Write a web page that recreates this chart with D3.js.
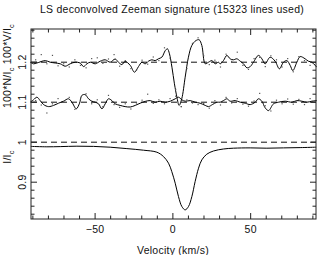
<!DOCTYPE html>
<html>
<head>
<meta charset="utf-8">
<script src="https://cdn.jsdelivr.net/npm/d3@7"></script>
<style>
  body { margin: 0; background: #fff; }
  text { font-family: "Liberation Sans", Arial, Helvetica, sans-serif; fill: #111; letter-spacing: 0.25px; }
</style>
</head>
<body>
<svg id="chart" width="317" height="255"></svg>
<script>
// --- data ---

const titleText = "LS deconvolved Zeeman signature (15323 lines used)";
const xTickValues = [-50, 0, 50];
const yTickValues = [0.9, 1.0, 1.1, 1.2];
const yTickLabels = ["0.9", "1", "1.1", "1.2"];
const zeroLevels = [1.0, 1.1, 1.2];   // dashed reference lines (I continuum, N offset, V offset)
const vOffset = 1.2, nOffset = 1.1;

// Stokes V (100*V/Ic), smoothed curve
const vVel = [-91.7, -89.6, -87.4, -82.0, -78.9, -75.6, -72.4, -69.2, -66.0, -62.8, -59.6, -57.4, -55.3, -53.1, -49.9,
  -46.7, -43.5, -40.3, -37.1, -35.0, -32.8, -30.7, -27.4, -24.7, -22.1, -19.9, -17.8, -15.7, -13.5, -11.4, -9.3, -7.1,
  -4.9, -3.5, -2.2, -0.6, 1.0, 2.6, 4.0, 5.7, 7.9, 10.0, 12.2, 14.8, 16.9, 18.6, 20.8, 22.9, 25.1, 27.2, 29.3, 30.4,
  32.5, 34.7, 36.8, 38.9, 41.1, 43.3, 45.4, 47.6, 49.7, 51.8, 55.0, 57.2, 59.3, 62.5, 65.7, 68.5, 71.1, 73.3, 75.4,
  77.1, 79.7, 81.8, 85.0, 87.1, 89.3, 92.5];
const vVal = [0, -0.004, -0.002, 0.004, 0, -0.002, -0.004, -0.010, -0.004, 0, -0.002, -0.011, -0.004, 0, -0.004,
  0.0025, 0.006, 0, 0.008, 0, -0.006, 0.002, -0.008, -0.025, -0.011, 0, -0.004, 0.0025, 0.006, 0.004, 0.0085, 0.0125,
  0.029, 0.0335, 0.021, -0.0125, -0.054, -0.0875, -0.108, -0.0915, -0.0375, 0.0125, 0.042, 0.054, 0.056, 0.042, -0.004,
  0, 0.004, -0.004, 0, -0.004, 0.004, 0.017, 0.0085, 0.006, 0.0085, 0.0025, -0.004, -0.014, -0.011, 0, 0.017, 0.0085,
  -0.004, 0.0125, 0.0025, -0.0165, 0, 0.004, -0.008, -0.021, 0, 0.014, 0.0085, 0.0025, 0, -0.0125];

// Null profile (100*N/Ic), smoothed curve
const nVel = [-91.7, -89.6, -87.4, -85.3, -83.1, -79.9, -76.7, -73.5, -70.3, -67.1, -64.9, -62.1, -60.0, -58.5, -56.4,
  -54.2, -52.1, -49.9, -47.8, -45.6, -43.5, -41.4, -39.2, -37.1, -33.9, -30.7, -27.4, -24.2, -21.0, -17.8, -14.6, -11.4,
  -8.2, -4.9, -1.7, 1.5, 3.6, 5.8, 7.9, 11.1, 14.3, 17.5, 20.8, 22.9, 25.4, 28.3, 30.4, 32.5, 34.7, 36.8, 40.0, 43.3,
  46.5, 49.7, 52.9, 55.0, 57.2, 59.3, 61.5, 64.7, 67.9, 72.2, 76.5, 79.7, 82.9, 86.1, 89.3, 92.5];
const nVal = [0, 0.006, 0.0125, 0.004, -0.006, -0.011, -0.008, -0.0025, 0.0025, 0.0085, 0, -0.0165, -0.0025, 0.017, 0.019,
  0.0085, 0.0025, 0, -0.004, -0.0165, -0.004, 0.0085, 0.004, -0.004, -0.008, -0.011, -0.012, -0.008, -0.0025, 0.002, 0.004, 0,
  0.0025, 0, 0.0025, 0.0085, 0.0125, 0.006, 0.0025, 0.004, 0, -0.0025, -0.008, -0.011, -0.006, 0, 0, 0.004, 0.0085, 0.0025,
  0.004, 0, -0.0025, -0.006, 0, 0.0085, 0.0025, -0.014, -0.021, -0.004, 0, 0.0025, 0, 0.004, 0.0025, 0, 0.0025, 0.004];

// raw LSD points (dots) for V and N
const dotVel = [-88.2, -84.6, -81, -77.4, -73.8, -70.2, -66.6, -63, -59.4, -55.8, -52.2, -48.6, -45, -41.4, -37.8, -34.2,
  -30.6, -27, -23.4, -19.8, -16.2, -12.6, -9, -5.4, -1.8, 1.8, 5.4, 9, 12.6, 16.2, 19.8, 23.4, 27, 30.6, 34.2, 37.8, 41.4,
  45, 48.6, 52.2, 55.8, 59.4, 63, 66.6, 70.2, 73.8, 77.4, 81, 84.6, 88.2];
const vDots = [0.006, 0.019, -0.004, 0.017, -0.009, -0.004, -0.012, 0.006, -0.008, -0.014, 0.009, 0.011, -0.003, 0.008,
  0.019, -0.010, 0.004, -0.016, -0.020, 0.005, -0.005, 0.013, 0.004, 0.036, 0.010, -0.068, -0.111, -0.016, 0.047, 0.061,
  0.016, -0.006, 0.005, -0.012, 0.020, 0.002, 0.025, -0.008, -0.018, 0.009, 0.012, -0.011, 0.016, 0.006, -0.012, 0.009,
  -0.024, 0.014, 0.004, -0.008];
const nDots = [0.004, -0.007, -0.027, -0.004, 0.009, 0.001, 0.012, -0.018, 0.006, 0.021, -0.004, 0.006, -0.011, 0.017,
  -0.006, -0.013, -0.004, -0.017, -0.002, 0.005, 0.020, -0.003, 0.006, -0.004, 0.009, 0.015, -0.011, 0.006, -0.002, -0.006,
  -0.003, -0.015, 0.004, -0.007, 0.012, -0.002, 0.009, -0.005, -0.010, 0.003, 0.022, -0.009, -0.022, 0.005, -0.004, 0.008,
  -0.005, 0.007, -0.006, 0.009];

// Stokes I (I/Ic)
const iVel = [-91.3, -81.0, -72.4, -61.7, -51.0, -40.3, -29.6, -18.9, -10.3, -6.0, -2.8, -0.7, 1.5, 3.6, 5.8, 7.9, 10.0,
  12.2, 14.3, 16.5, 18.6, 21.8, 26.1, 32.5, 38.9, 49.7, 60.4, 71.1, 81.8, 92.1];
const iVal = [0.9895, 0.9885, 0.989, 0.990, 0.9895, 0.9875, 0.984, 0.980, 0.975, 0.964, 0.9475, 0.9265, 0.8975, 0.864,
  0.839, 0.8308, 0.839, 0.864, 0.9015, 0.935, 0.9558, 0.970, 0.978, 0.983, 0.985, 0.9858, 0.985, 0.9858, 0.9865, 0.9875];

// --- drawing ---

const svg = d3.select("#chart");
const margin = { top: 29, right: 1, bottom: 36, left: 31 };
const W = 317, H = 255;

const x = d3.scaleLinear().domain([-91.2, 92.0]).range([margin.left, W - margin.right]);
const y = d3.scaleLinear().domain([0.808, 1.283]).range([H - margin.bottom, margin.top]);

const x0 = x.range()[0], x1 = x.range()[1], y0 = y.range()[0], y1 = y.range()[1];

// dashed zero levels
svg.selectAll(".zero").data(zeroLevels).enter().append("line")
  .attr("x1", x0).attr("x2", x1)
  .attr("y1", d => y(d)).attr("y2", d => y(d))
  .attr("stroke", "#111").attr("stroke-width", 1).attr("stroke-dasharray", "6,4");

const line = d3.line().curve(d3.curveCatmullRom.alpha(0.5));

svg.append("path")
  .attr("d", line(vVel.map((v, i) => [x(v), y(vOffset + vVal[i])])))
  .attr("fill", "none").attr("stroke", "#000").attr("stroke-width", 1);

svg.append("path")
  .attr("d", line(nVel.map((v, i) => [x(v), y(nOffset + nVal[i])])))
  .attr("fill", "none").attr("stroke", "#000").attr("stroke-width", 1);

svg.append("path")
  .attr("d", line(iVel.map((v, i) => [x(v), y(iVal[i])])))
  .attr("fill", "none").attr("stroke", "#000").attr("stroke-width", 1);

// raw points
const drawDots = (vals, off) => {
  svg.append("g").selectAll("rect").data(dotVel).enter().append("rect")
    .attr("x", (d) => x(d) - 0.6)
    .attr("y", (d, i) => y(off + vals[i]) - 0.6)
    .attr("width", 1.2).attr("height", 1.2)
    .attr("fill", "#555");
};
drawDots(vDots, vOffset);
drawDots(nDots, nOffset);

// frame
svg.append("rect")
  .attr("x", x0).attr("y", y1).attr("width", x1 - x0).attr("height", y0 - y1)
  .attr("fill", "none").attr("stroke", "#222").attr("stroke-width", 1);

// ticks, pointing inwards on all four sides
const ticks = svg.append("g").attr("stroke", "#222").attr("stroke-width", 1);
const xMinor = d3.range(-90, 91, 10);
const yMinor = d3.range(82, 129, 2).map(d => d / 100);

xMinor.forEach(v => {
  const len = xTickValues.includes(v) ? 6 : 3.5;
  ticks.append("line").attr("x1", x(v)).attr("x2", x(v)).attr("y1", y0).attr("y2", y0 - len);
  ticks.append("line").attr("x1", x(v)).attr("x2", x(v)).attr("y1", y1).attr("y2", y1 + len);
});
yMinor.forEach(v => {
  const major = yTickValues.some(t => Math.abs(t - v) < 1e-6);
  const len = major ? 6 : 3.5;
  ticks.append("line").attr("x1", x0).attr("x2", x0 + len).attr("y1", y(v)).attr("y2", y(v));
  ticks.append("line").attr("x1", x1).attr("x2", x1 - len).attr("y1", y(v)).attr("y2", y(v));
});

// tick labels
svg.selectAll(".xlab").data(xTickValues).enter().append("text")
  .attr("x", d => x(d)).attr("y", 233)
  .attr("text-anchor", "middle").style("font-size", "10.5px")
  .text(d => d < 0 ? "\u2212" + Math.abs(d) : d);

svg.selectAll(".ylab").data(yTickValues).enter().append("text")
  .attr("transform", d => `translate(25.5,${y(d)}) rotate(-90)`)
  .attr("text-anchor", "middle").style("font-size", "10.5px")
  .text((d, i) => yTickLabels[i]);

// title & axis titles
svg.append("text").attr("x", 172).attr("y", 13)
  .attr("text-anchor", "middle").style("font-size", "10.5px").text(titleText);

svg.append("text").attr("x", 173).attr("y", 254)
  .attr("text-anchor", "middle").style("font-size", "10.5px").text("Velocity (km/s)");

const addStokesLabel = (cy, parts) => {
  const t = svg.append("text")
    .attr("transform", `translate(11,${cy}) rotate(-90)`)
    .attr("text-anchor", "middle").style("font-size", "10.5px");
  parts.forEach(p => {
    t.append("tspan").text(p.main);
    t.append("tspan").attr("dy", 2.5).style("font-size", "7.5px").text("c");
    t.append("tspan").attr("dy", -2.5).text(p.after || "");
  });
};
addStokesLabel(66, [{ main: "100*N/I", after: " " }, { main: "100*V/I" }]);
addStokesLabel(157, [{ main: "I/I" }]);
</script>
</body>
</html>
